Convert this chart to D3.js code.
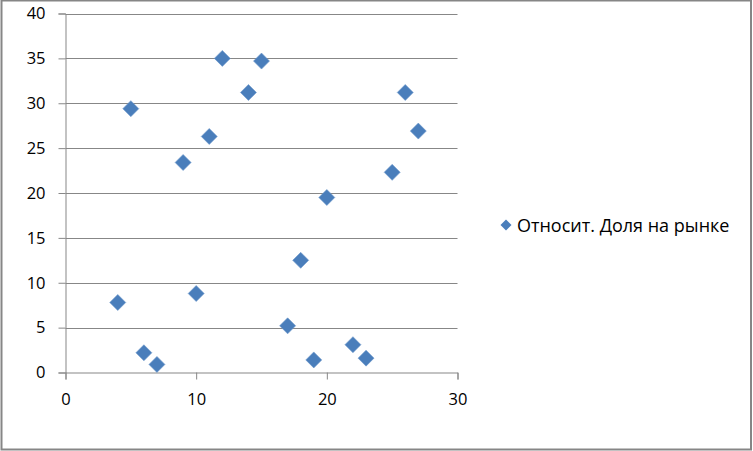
<!DOCTYPE html>
<html><head><meta charset="utf-8">
<script src="https://cdn.jsdelivr.net/npm/d3@7"></script>
<style>body{margin:0;background:#fff}svg{display:block}</style>
</head><body>
<svg id="c" width="753" height="451"></svg>
<script>
const seriesName = "Относит. Доля на рынке";
const xValues = [4, 5, 6, 7, 9, 10, 11, 12, 14, 15, 17, 18, 19, 20, 22, 23, 25, 26, 27];
const yValues = [7.8, 29.4, 2.2, 0.9, 23.4, 8.8, 26.3, 35.0, 31.2, 34.7, 5.2, 12.5, 1.4, 19.5, 3.1, 1.6, 22.3, 31.2, 26.9];
const xTicks = [0, 10, 20, 30];
const yTicks = [0, 5, 10, 15, 20, 25, 30, 35, 40];

const svg = d3.select("#c");
const font = "'Open Sans', sans-serif";
const grid = "#878787";

svg.append("rect").attr("x", 1.5).attr("y", 0.5).attr("width", 749.5).attr("height", 449)
  .attr("fill", "#fff").attr("stroke", "#868686").attr("stroke-width", 2);

const x = d3.scaleLinear().domain([0, 30]).range([65.5, 457.5]);
const y = d3.scaleLinear().domain([0, 40]).range([372.5, 13.5]);

// gridlines
svg.append("g").selectAll("line").data(yTicks.filter(d => d > 0)).join("line")
  .attr("x1", x(0)).attr("x2", x(30)).attr("y1", d => Math.round(y(d)) + 0.5).attr("y2", d => Math.round(y(d)) + 0.5)
  .attr("stroke", grid).attr("stroke-width", 1);

const yAxis = d3.axisLeft(y).tickValues(yTicks).tickSize(7).tickPadding(13).tickFormat(d3.format("d"));
const gy = svg.append("g").attr("transform", `translate(${x(0)},0)`).call(yAxis);
const xAxis = d3.axisBottom(x).tickValues(xTicks).tickSize(7).tickPadding(14).tickFormat(d3.format("d"));
const gx = svg.append("g").attr("transform", `translate(0,${y(0)})`).call(xAxis);
[gx, gy].forEach(g => {
  g.select(".domain").attr("stroke", grid);
  g.selectAll(".tick line").attr("stroke", grid);
  g.selectAll("text").attr("font-family", font).attr("font-size", 16.5).attr("fill", "#000");
});

const pts = xValues.map((v, i) => ({x: v, y: yValues[i]}));
svg.append("g").selectAll("path").data(pts).join("path")
  .attr("transform", d => `translate(${x(d.x)},${y(d.y)})`)
  .attr("d", "M0,-8L8,0L0,8L-8,0Z")
  .attr("fill", "#4a7ebb").attr("stroke", "#6f98cb").attr("stroke-width", 0.6);

// legend
const lg = svg.append("g").attr("transform", "translate(506,225)");
lg.append("path").attr("d", "M0,-5.5L5.5,0L0,5.5L-5.5,0Z").attr("fill", "#4a7ebb");
lg.append("text").attr("x", 11).attr("y", 6.5).attr("font-family", font).attr("font-size", 18)
  .attr("fill", "#000").text(seriesName);
</script>
</body></html>
